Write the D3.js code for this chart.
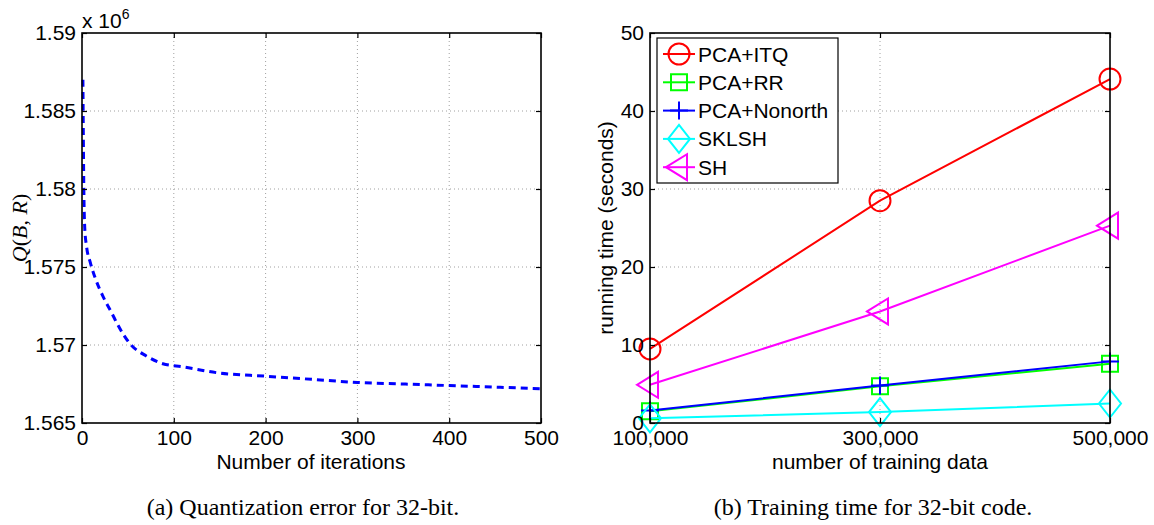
<!DOCTYPE html>
<html>
<head>
<meta charset="utf-8">
<script src="https://cdn.jsdelivr.net/npm/d3@7/dist/d3.min.js"></script>
<style>
  body { margin: 0; background: #fff; }
  svg text { font-family: "Liberation Sans", Arial, Helvetica, sans-serif; }
  .grid line { stroke: #a0a0a0; stroke-width: 1; stroke-dasharray: 1,3; }
  .caption { font-family: "Liberation Serif", "Times New Roman", serif !important; }
</style>
</head>
<body>
<div id="chart"></div>
<script>
// ---- data ----
// (a) quantization error, values in units of 10^6
var iterations = [1, 2, 3, 5, 9, 15, 23, 32, 38, 52, 70, 88, 110, 150, 200, 250, 300, 350, 400, 450, 500];
var quantError = [1.5870, 1.5800, 1.5775, 1.5763, 1.5753, 1.5742, 1.5731, 1.5721, 1.5714, 1.5701,
                  1.5693, 1.5688, 1.5686, 1.5682, 1.5680, 1.5678, 1.5676, 1.5675, 1.5674, 1.5673, 1.5672];
var leftXTicks = [0, 100, 200, 300, 400, 500];
var leftYTicks = [1.565, 1.57, 1.575, 1.58, 1.585, 1.59];
var leftYTickLabels = ["1.565", "1.57", "1.575", "1.58", "1.585", "1.59"];

// (b) training time in seconds
var trainSizes = [100000, 300000, 500000];
var trainSizeLabels = ["100,000", "300,000", "500,000"];
var rightYTicks = [0, 10, 20, 30, 40, 50];
var methodNames = ["PCA+ITQ", "PCA+RR", "PCA+Nonorth", "SKLSH", "SH"];
var methodColors = ["#ff0000", "#00ff00", "#0000ff", "#00ffff", "#ff00ff"];
var methodMarkers = ["circle", "square", "plus", "diamond", "triangle"];
var itqTime = [9.5, 28.5, 44.1];
var rrTime = [1.5, 4.7, 7.6];
var nonorthTime = [1.6, 4.8, 7.9];
var sklshTime = [0.6, 1.4, 2.5];
var shTime = [4.9, 14.3, 25.3];
var methodTimes = [itqTime, rrTime, nonorthTime, sklshTime, shTime];

var svgWidth = 1154;
var svgHeight = 525;
var fontSize = 21;

var svg = d3.select("#chart")
  .append("svg")
  .attr("width", svgWidth)
  .attr("height", svgHeight)
  .style("background", "#fff");

// scales
var xLeft = d3.scaleLinear().domain([0, 500]).range([82, 541]);
var yLeft = d3.scaleLinear().domain([1.565, 1.59]).range([423, 33]);
var xRight = d3.scaleLinear().domain([100000, 500000]).range([650, 1110]);
var yRight = d3.scaleLinear().domain([0, 50]).range([423, 33]);

// grid + box + inward ticks, MATLAB style
function drawFrame(x, y, xTicks, xFmt, yTicks, yFmt) {
  var x0 = x.range()[0], x1 = x.range()[1];
  var y0 = y.range()[0], y1 = y.range()[1];
  var grid = svg.append("g").attr("class", "grid");
  grid.selectAll(".gx")
    .data(xTicks.slice(1, -1))
    .enter().append("line")
    .attr("x1", d => x(d)).attr("x2", d => x(d))
    .attr("y1", y1).attr("y2", y0);
  grid.selectAll(".gy")
    .data(yTicks.slice(1, -1))
    .enter().append("line")
    .attr("x1", x0).attr("x2", x1)
    .attr("y1", d => y(d)).attr("y2", d => y(d));
}

function drawAxes(x, y, xTicks, xFmt, yTicks, yFmt) {
  var x0 = x.range()[0], x1 = x.range()[1];
  var y0 = y.range()[0], y1 = y.range()[1];

  svg.append("rect")
    .attr("x", x0).attr("y", y1)
    .attr("width", x1 - x0).attr("height", y0 - y1)
    .attr("fill", "none")
    .attr("stroke", "#000")
    .attr("stroke-width", 1.6);

  var axes = [
    [d3.axisBottom(x).tickValues(xTicks).tickFormat(xFmt).tickPadding(7), `translate(0,${y0})`],
    [d3.axisTop(x).tickValues(xTicks).tickFormat(""), `translate(0,${y1})`],
    [d3.axisLeft(y).tickValues(yTicks).tickFormat(yFmt).tickPadding(6), `translate(${x0},0)`],
    [d3.axisRight(y).tickValues(yTicks).tickFormat(""), `translate(${x1},0)`]
  ];
  axes.forEach(function (a) {
    svg.append("g")
      .attr("transform", a[1])
      .call(a[0].tickSize(-5))
      .call(g => g.select(".domain").remove())
      .call(g => g.selectAll("line").attr("stroke-width", 1.2))
      .call(g => g.selectAll("text")
        .attr("font-size", fontSize)
        .attr("font-family", "Liberation Sans, Arial, sans-serif")
        .attr("fill", "#000"));
  });
}

// ---------- (a) ----------
drawFrame(xLeft, yLeft, leftXTicks, null, leftYTicks, null);

var errLine = d3.line()
  .x((d, i) => xLeft(iterations[i]))
  .y(d => yLeft(d))
  .curve(d3.curveMonotoneX);

svg.append("path")
  .datum(quantError)
  .attr("d", errLine)
  .attr("fill", "none")
  .attr("stroke", "#0000ff")
  .attr("stroke-width", 3)
  .attr("stroke-dasharray", "7,5");

drawAxes(xLeft, yLeft, leftXTicks, d => String(d),
  leftYTicks, (d, i) => leftYTickLabels[i]);

// x 10^6 multiplier
var mult = svg.append("text")
  .attr("x", 82).attr("y", 28)
  .attr("font-size", fontSize)
  .text("x 10");
mult.append("tspan")
  .attr("font-size", 14)
  .attr("dy", -9)
  .text("6");

svg.append("text")
  .attr("x", 311).attr("y", 469)
  .attr("text-anchor", "middle")
  .attr("font-size", fontSize)
  .text("Number of iterations");

var qLabel = svg.append("text")
  .attr("transform", "translate(27,228) rotate(-90)")
  .attr("text-anchor", "middle")
  .attr("font-size", 22)
  .style("font-family", "Liberation Serif, serif");
qLabel.append("tspan").attr("font-style", "italic").text("Q");
qLabel.append("tspan").text("(");
qLabel.append("tspan").attr("font-style", "italic").text("B");
qLabel.append("tspan").text(", ");
qLabel.append("tspan").attr("font-style", "italic").text("R");
qLabel.append("tspan").text(")");

// ---------- (b) ----------
drawFrame(xRight, yRight, trainSizes, null, rightYTicks, null);

function markerPath(type) {
  var p = d3.path();
  if (type === "circle") {
    p.moveTo(10.5, 0); p.arc(0, 0, 10.5, 0, 2 * Math.PI);
  } else if (type === "square") {
    p.rect(-8, -8, 16, 16);
  } else if (type === "plus") {
    p.moveTo(-9, 0); p.lineTo(9, 0); p.moveTo(0, -9); p.lineTo(0, 9);
  } else if (type === "diamond") {
    p.moveTo(0, -14); p.lineTo(11, 0); p.lineTo(0, 14); p.lineTo(-11, 0); p.closePath();
  } else if (type === "triangle") {
    p.moveTo(-13, 0); p.lineTo(8, -13); p.lineTo(8, 13); p.closePath();
  }
  return p.toString();
}

var timeLine = d3.line()
  .x((d, i) => xRight(trainSizes[i]))
  .y(d => yRight(d));

methodTimes.forEach(function (vals, m) {
  svg.append("path")
    .datum(vals)
    .attr("d", timeLine)
    .attr("fill", "none")
    .attr("stroke", methodColors[m])
    .attr("stroke-width", 2);
  svg.selectAll(null)
    .data(vals)
    .enter()
    .append("path")
    .attr("transform", (d, i) => `translate(${xRight(trainSizes[i])},${yRight(d)})`)
    .attr("d", markerPath(methodMarkers[m]))
    .attr("fill", "none")
    .attr("stroke", methodColors[m])
    .attr("stroke-width", 2);
});

drawAxes(xRight, yRight, trainSizes, (d, i) => trainSizeLabels[i],
  rightYTicks, d => String(d));

svg.append("text")
  .attr("x", 880).attr("y", 469)
  .attr("text-anchor", "middle")
  .attr("font-size", fontSize)
  .text("number of training data");

svg.append("text")
  .attr("transform", "translate(613,228) rotate(-90)")
  .attr("text-anchor", "middle")
  .attr("font-size", fontSize)
  .text("running time (seconds)");

// legend
var legend = svg.append("g");
legend.append("rect")
  .attr("x", 657).attr("y", 38)
  .attr("width", 181).attr("height", 145)
  .attr("fill", "#fff")
  .attr("stroke", "#000")
  .attr("stroke-width", 1.2);

var rows = legend.selectAll(".row")
  .data(methodNames)
  .enter().append("g")
  .attr("transform", (d, i) => `translate(0,${54 + i * 28.3})`);
rows.append("line")
  .attr("x1", 663).attr("x2", 695)
  .attr("stroke", (d, i) => methodColors[i])
  .attr("stroke-width", 2);
rows.append("path")
  .attr("transform", "translate(679,0)")
  .attr("d", (d, i) => markerPath(methodMarkers[i]))
  .attr("fill", "none")
  .attr("stroke", (d, i) => methodColors[i])
  .attr("stroke-width", 2);
rows.append("text")
  .attr("x", 698).attr("y", 7.5)
  .attr("font-size", fontSize)
  .text(d => d);

// captions
svg.append("text")
  .attr("class", "caption")
  .attr("x", 303).attr("y", 515)
  .attr("text-anchor", "middle")
  .attr("font-size", 24)
  .style("font-family", "Liberation Serif, serif")
  .text("(a) Quantization error for 32-bit.");

svg.append("text")
  .attr("class", "caption")
  .attr("x", 873).attr("y", 515)
  .attr("text-anchor", "middle")
  .attr("font-size", 24)
  .style("font-family", "Liberation Serif, serif")
  .text("(b) Training time for 32-bit code.");
</script>
</body>
</html>
